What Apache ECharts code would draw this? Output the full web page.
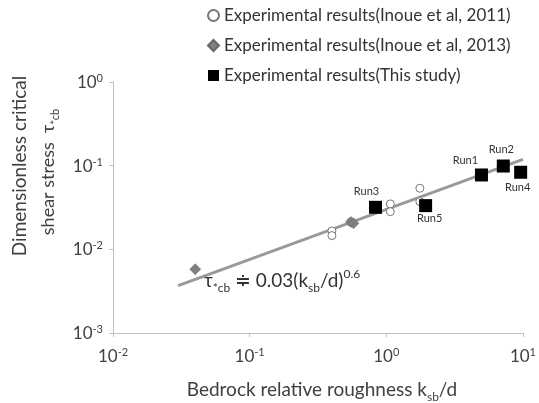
<!DOCTYPE html>
<html>
<head>
<meta charset="utf-8">
<script src="https://cdn.jsdelivr.net/npm/echarts@6/dist/echarts.min.js"></script>
<style>
  html, body { margin: 0; padding: 0; background: #fff; }
  #main { width: 539px; height: 403px; }
</style>
</head>
<body>
<div id="main"></div>
<script>
// data
const inoue2011X = [0.40, 0.40, 0.55, 1.07, 1.07, 1.76, 1.76];
const inoue2011Y = [0.0166, 0.0146, 0.0212, 0.0349, 0.0282, 0.0537, 0.0372];

const inoue2013X = [0.040, 0.551, 0.575];
const inoue2013Y = [0.00578, 0.0212, 0.0205];

const runNames = ['Run3', 'Run5', 'Run1', 'Run2', 'Run4'];
const runX = [0.834, 1.94, 4.97, 7.18, 9.62];
const runY = [0.0318, 0.0333, 0.0774, 0.099, 0.0834];

// fitted line end points
const fitX = [0.03, 10];
const fitY = [0.00368, 0.119];

// label offsets for the run names
const runLabelOffset = [[-9, -16], [4, 13], [-16, -15], [-2, -17], [-3, 15]];

const font = 'Lato';
const textColor = '#404040';

function zip(xs, ys) {
  return xs.map(function (x, i) { return [x, ys[i]]; });
}

function powLabel(v) {
  let e = Math.round(Math.log10(v));
  return '{b|10}{s|' + e + '}';
}

const tickRich = {
  b: { fontSize: 17, fontFamily: font, color: textColor, verticalAlign: 'bottom', lineHeight: 18 },
  s: { fontSize: 11, fontFamily: font, color: textColor, verticalAlign: 'top', lineHeight: 18, padding: [0, 0, 7, 0] }
};

let myChart = echarts.init(document.getElementById('main'));

let option = {
  animation: false,
  backgroundColor: '#fff',
  grid: { left: 113, right: 9, top: 82, bottom: 70, containLabel: false },
  legend: {
    orient: 'vertical',
    left: 202,
    top: 2,
    itemGap: 13,
    itemWidth: 11,
    itemHeight: 11,
    textStyle: { fontFamily: font, fontSize: 17, color: '#333' },
    data: ['Experimental results(Inoue et al, 2011)', 'Experimental results(Inoue et al, 2013)', 'Experimental results(This study)']
  },
  xAxis: {
    type: 'log',
    logBase: 10,
    min: 0.01,
    max: 10,
    axisLine: { lineStyle: { color: '#c0c0c0', width: 1 } },
    axisTick: { show: true, length: 4, lineStyle: { color: '#c0c0c0' } },
    splitLine: { show: false },
    axisLabel: {
      margin: 14,
      formatter: powLabel,
      rich: tickRich
    }
  },
  yAxis: {
    type: 'log',
    logBase: 10,
    min: 0.001,
    max: 1,
    axisLine: { show: true, lineStyle: { color: '#c0c0c0', width: 1 } },
    axisTick: { show: true, length: 4, lineStyle: { color: '#c0c0c0' } },
    splitLine: { show: false },
    axisLabel: {
      margin: 10,
      formatter: powLabel,
      rich: tickRich
    }
  },
  series: [
    {
      name: 'fit',
      type: 'line',
      data: zip(fitX, fitY),
      symbol: 'none',
      lineStyle: { color: '#999', width: 3 },
      z: 1
    },
    {
      name: 'Experimental results(Inoue et al, 2011)',
      type: 'scatter',
      data: zip(inoue2011X, inoue2011Y),
      symbol: 'circle',
      symbolSize: 8,
      itemStyle: { color: '#fff', borderColor: '#777', borderWidth: 1, opacity: 1 },
      z: 2
    },
    {
      name: 'Experimental results(Inoue et al, 2013)',
      type: 'scatter',
      data: zip(inoue2013X, inoue2013Y),
      symbol: 'diamond',
      symbolSize: 11,
      itemStyle: { color: '#7f7f7f', borderColor: '#666', borderWidth: 0.5, opacity: 1 },
      z: 3
    },
    {
      name: 'Experimental results(This study)',
      type: 'scatter',
      data: runX.map(function (x, i) {
        return {
          value: [x, runY[i]],
          label: { offset: runLabelOffset[i] }
        };
      }),
      symbol: 'rect',
      symbolSize: 13,
      itemStyle: { color: '#000', opacity: 1 },
      label: {
        show: true,
        position: 'inside',
        formatter: function (p) { return runNames[p.dataIndex]; },
        fontFamily: font,
        fontSize: 11,
        color: '#333'
      },
      z: 4
    }
  ],
  graphic: [
    {
      type: 'text',
      left: 204,
      top: 268,
      style: {
        text: '{t|τ}{sub|*cb}{t| ≑ 0.03(k}{sub|sb}{t|/d)}{sup|0.6}',
        rich: {
          t: { fontFamily: font, fontSize: 19, fill: '#333', verticalAlign: 'bottom', lineHeight: 22 },
          sub: { fontFamily: font, fontSize: 12, fill: '#333', verticalAlign: 'bottom', lineHeight: 22, padding: [0, 0, -4, 0] },
          sup: { fontFamily: font, fontSize: 12, fill: '#333', verticalAlign: 'top', lineHeight: 22, padding: [0, 0, 8, 0] }
        }
      }
    },
    {
      type: 'text',
      x: 322,
      y: 388,
      style: {
        text: '{t|Bedrock relative roughness k}{sub|sb}{t|/d}',
        align: 'center',
        verticalAlign: 'middle',
        rich: {
          t: { fontFamily: font, fontSize: 19, fill: textColor, verticalAlign: 'bottom', lineHeight: 22 },
          sub: { fontFamily: font, fontSize: 12, fill: textColor, verticalAlign: 'bottom', lineHeight: 22, padding: [0, 0, -4, 0] }
        }
      }
    },
    {
      type: 'text',
      x: 20,
      y: 166,
      rotation: Math.PI / 2,
      style: {
        text: 'Dimensionless critical',
        align: 'center',
        verticalAlign: 'middle',
        fontFamily: font,
        fontSize: 19,
        fill: textColor
      }
    },
    {
      type: 'text',
      x: 47,
      y: 172,
      rotation: Math.PI / 2,
      style: {
        text: '{t|shear stress  τ}{sub|*cb}',
        align: 'center',
        verticalAlign: 'middle',
        rich: {
          t: { fontFamily: font, fontSize: 18, fill: textColor, verticalAlign: 'bottom', lineHeight: 20 },
          sub: { fontFamily: font, fontSize: 11, fill: textColor, verticalAlign: 'bottom', lineHeight: 20, padding: [0, 0, -4, 0] }
        }
      }
    }
  ]
};

myChart.setOption(option);
</script>
</body>
</html>
